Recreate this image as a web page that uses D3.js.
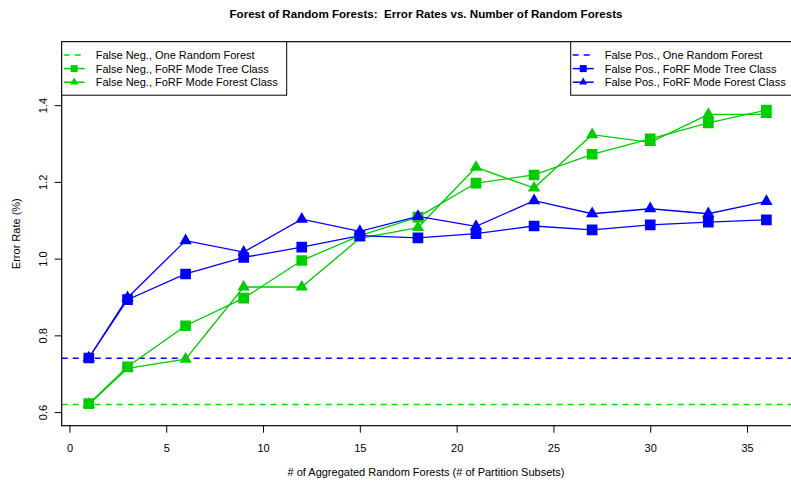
<!DOCTYPE html>
<html>
<head>
<meta charset="utf-8">
<script src="https://cdn.jsdelivr.net/npm/d3@7"></script>
<style>
  body { margin: 0; background: #fff; }
  svg { display: block; font-family: "Liberation Sans", Arial, sans-serif; }
</style>
</head>
<body>
<svg id="chart" width="791" height="481"></svg>
<script>
// ===== DATA =====
const partitions = [1, 3, 6, 9, 12, 15, 18, 21, 24, 27, 30, 33, 36];
const fnTreeClass   = [0.622, 0.718, 0.825, 0.897, 0.995, 1.060, 1.108, 1.197, 1.218, 1.272, 1.312, 1.354, 1.387];
const fnForestClass = [0.620, 0.714, 0.738, 0.926, 0.926, 1.053, 1.081, 1.238, 1.184, 1.323, 1.303, 1.376, 1.376];
const fpTreeClass   = [0.741, 0.893, 0.960, 1.003, 1.030, 1.060, 1.054, 1.065, 1.085, 1.075, 1.088, 1.095, 1.101];
const fpForestClass = [0.741, 0.898, 1.047, 1.017, 1.103, 1.071, 1.110, 1.084, 1.151, 1.117, 1.130, 1.117, 1.149];
const fnOneForest = 0.62;
const fpOneForest = 0.74;
const xTicks = [0, 5, 10, 15, 20, 25, 30, 35];
const yTicks = [0.6, 0.8, 1.0, 1.2, 1.4];

const GREEN = '#00CD00';
const GREEN_DASH = '#00DD00';
const BLUE = '#0000FF';

// ===== LAYOUT =====
const plot = { left: 61.7, right: 793.5, top: 41.7, bottom: 425.7 };
const svg = d3.select('#chart');

const x = d3.scaleLinear().domain([-0.4, 37.4]).range([plot.left, plot.right]);
const y = d3.scaleLinear().domain([0.5645, 1.5654]).range([plot.bottom, plot.top]);

svg.append('defs').append('clipPath').attr('id', 'plotClip')
    .append('rect')
    .attr('x', plot.left).attr('y', plot.top)
    .attr('width', plot.right - plot.left).attr('height', plot.bottom - plot.top);

// Title (double space kept, as in the original)
svg.append('text')
    .attr('x', 426).attr('y', 18)
    .attr('text-anchor', 'middle')
    .attr('xml:space', 'preserve')
    .style('white-space', 'pre')
    .style('font-size', '11.6px').style('font-weight', 'bold')
    .text('Forest of Random Forests:  Error Rates vs. Number of Random Forests');

// Axes
const xAxis = svg.append('g')
    .attr('transform', `translate(0,${plot.bottom})`)
    .call(d3.axisBottom(x).tickValues(xTicks).tickSize(7).tickPadding(12).tickFormat(d3.format('d')));
xAxis.select('.domain').remove();
xAxis.selectAll('text').style('font-size', '11px').attr('fill', '#000');

const yAxis = svg.append('g')
    .attr('transform', `translate(${plot.left},0)`)
    .call(d3.axisLeft(y).tickValues(yTicks).tickSize(7).tickFormat(d3.format('.1f')));
yAxis.select('.domain').remove();
yAxis.selectAll('text').remove();
yAxis.selectAll('.tick').append('text')
    .attr('transform', 'translate(-15,0) rotate(-90)')
    .attr('text-anchor', 'middle')
    .attr('fill', '#000')
    .style('font-size', '11px')
    .text(d => d3.format('.1f')(d));

// Box
svg.append('rect')
    .attr('x', plot.left).attr('y', plot.top)
    .attr('width', plot.right - plot.left).attr('height', plot.bottom - plot.top)
    .attr('fill', 'none').attr('stroke', '#000').attr('stroke-width', 1.2);

// Axis labels
svg.append('text')
    .attr('x', 426).attr('y', 476)
    .attr('text-anchor', 'middle')
    .style('font-size', '11px')
    .text('# of Aggregated Random Forests (# of Partition Subsets)');

svg.append('text')
    .attr('transform', `translate(20,${(plot.top + plot.bottom) / 2}) rotate(-90)`)
    .attr('text-anchor', 'middle')
    .style('font-size', '11px')
    .text('Error Rate (%)');

// ===== MARKS =====
const g = svg.append('g').attr('clip-path', 'url(#plotClip)');

// reference lines (one random forest)
[[fnOneForest, GREEN_DASH], [fpOneForest, BLUE]].forEach(([v, c]) => {
    g.append('line')
        .attr('x1', plot.left).attr('x2', plot.right)
        .attr('y1', y(v)).attr('y2', y(v))
        .attr('stroke', c).attr('stroke-width', 1.5)
        .attr('stroke-dasharray', '6,5');
});

const series = [
    { values: fnForestClass, color: GREEN, shape: d3.symbolTriangle, size: 66 },
    { values: fnTreeClass,   color: GREEN, shape: d3.symbolSquare,   size: 114 },
    { values: fpForestClass, color: BLUE,  shape: d3.symbolTriangle, size: 66 },
    { values: fpTreeClass,   color: BLUE,  shape: d3.symbolSquare,   size: 114 }
];

const line = d3.line().x(d => x(d[0])).y(d => y(d[1]));

series.forEach(s => {
    const pts = partitions.map((p, i) => [p, s.values[i]]);
    g.append('path')
        .attr('d', line(pts))
        .attr('fill', 'none')
        .attr('stroke', s.color)
        .attr('stroke-width', 1.3);
    g.selectAll(null)
        .data(pts)
        .enter()
        .append('path')
        .attr('transform', d => `translate(${x(d[0])},${y(d[1])})`)
        .attr('d', d3.symbol().type(s.shape).size(s.size))
        .attr('fill', s.color);
});

// ===== LEGENDS =====
function drawLegend(x0, width, color, dashColor, entries) {
    const lg = svg.append('g');
    lg.append('rect')
        .attr('x', x0).attr('y', plot.top)
        .attr('width', width).attr('height', 53.5)
        .attr('fill', '#fff').attr('stroke', '#000').attr('stroke-width', 1);
    entries.forEach((e, i) => {
        const ly = 55 + i * 13.6;
        lg.append('line')
            .attr('x1', x0 + 2).attr('x2', x0 + 23)
            .attr('y1', ly).attr('y2', ly)
            .attr('stroke', e.dash ? dashColor : color)
            .attr('stroke-width', 1.5)
            .attr('stroke-dasharray', e.dash ? '6,5' : null);
        if (e.shape) {
            lg.append('path')
                .attr('transform', `translate(${x0 + 12.5},${ly})`)
                .attr('d', d3.symbol().type(e.shape).size(e.size))
                .attr('fill', color);
        }
        lg.append('text')
            .attr('x', x0 + 34).attr('y', ly + 4)
            .style('font-size', '11px')
            .text(e.label);
    });
}

drawLegend(plot.left, 225, GREEN, GREEN_DASH, [
    { label: 'False Neg., One Random Forest', dash: true },
    { label: 'False Neg., FoRF Mode Tree Class', shape: d3.symbolSquare, size: 49 },
    { label: 'False Neg., FoRF Mode Forest Class', shape: d3.symbolTriangle, size: 28 }
]);

drawLegend(570.7, 230, BLUE, BLUE, [
    { label: 'False Pos., One Random Forest', dash: true },
    { label: 'False Pos., FoRF Mode Tree Class', shape: d3.symbolSquare, size: 49 },
    { label: 'False Pos., FoRF Mode Forest Class', shape: d3.symbolTriangle, size: 28 }
]);
</script>
</body>
</html>
